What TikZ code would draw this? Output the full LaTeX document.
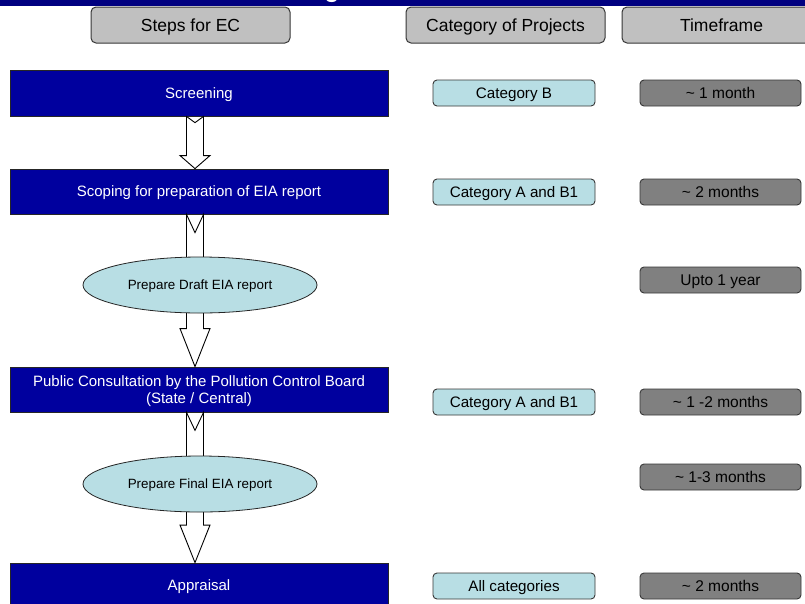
\documentclass[tikz,border=0pt]{standalone}
\usepackage{fontspec}
\setmainfont{Liberation Sans}
\usetikzlibrary{shapes.geometric,calc}

\definecolor{bandnavy}{RGB}{0,0,128}
\definecolor{stepblue}{RGB}{0,0,158}
\definecolor{catcyan}{RGB}{184,222,228}
\definecolor{hdrgrey}{RGB}{192,192,192}
\definecolor{timegrey}{RGB}{128,128,128}
\definecolor{edgegrey}{RGB}{55,55,55}

\tikzset{
  header/.style={draw=edgegrey, line width=1pt, rounded corners=5pt, fill=hdrgrey,
    minimum width=199pt, minimum height=36pt, inner sep=0pt, text depth=0pt,
    font=\fontsize{17.5}{20}\selectfont},
  stepbox/.style={draw=black!85, line width=0.8pt, fill=stepblue, text=white,
    minimum width=378pt, minimum height=45pt, inner sep=0pt, align=center,
    text depth=0pt, font=\fontsize{15}{17}\selectfont},
  catbox/.style={draw=edgegrey, line width=0.9pt, rounded corners=4pt, fill=catcyan,
    minimum width=162pt, minimum height=26pt, inner sep=0pt, text depth=0pt,
    font=\fontsize{15.2}{17}\selectfont},
  timebox/.style={catbox, fill=timegrey, minimum width=161pt,
    font=\fontsize{15.5}{17}\selectfont},
  prepoval/.style={ellipse, draw=black!85, line width=0.8pt, fill=catcyan,
    minimum width=234pt, minimum height=56pt, inner sep=0pt, text depth=0pt,
    font=\fontsize{13.4}{15}\selectfont},
  flowarrow/.style={draw=black, line width=0.9pt, fill=white, line join=miter}
}

% hollow block arrow with a notched tail, from the bottom of one node to the top of the next
\newcommand{\notchedarrow}[2]{%
  \draw[flowarrow] let \p1=(#1.south), \p2=(#2.north),
      \n1={\y1-\y2}, \n2={\x1-4pt} in
    ({\n2-8.5pt},{\y1}) -- ({\n2},{\y1-0.12*\n1}) -- ({\n2+8.5pt},{\y1})
    -- ({\n2+8.5pt},{\y2+0.25*\n1}) -- ({\n2+15pt},{\y2+0.25*\n1})
    -- ({\n2},{\y2}) -- ({\n2-15pt},{\y2+0.25*\n1})
    -- ({\n2-8.5pt},{\y2+0.25*\n1}) -- cycle;}

\begin{document}
\begin{tikzpicture}[x=1pt, y=-1pt]
  \useasboundingbox (0,0) rectangle (805,603);
  \fill[white] (0,0) rectangle (805,603);

  % title band along the top edge
  \begin{scope}
    \clip (0,0) rectangle (805,603);
    \fill[bandnavy] (0,-2) rectangle (805,6);
    \node[anchor=base, text=white, inner sep=0pt, font=\fontsize{24}{28}\selectfont\bfseries]
      (titlefrag) at (332,-3) {g};
  \end{scope}

  % column headers
  \node[header] (hsteps) at (190.5,25) {Steps for EC};
  \node[header] (hcat)   at (505.5,25) {Category of Projects};
  \node[header] (htime)  at (721.5,25) {Timeframe};

  % process steps
  \node[stepbox, minimum height=46pt] (screen) at (199,93) {Screening};
  \node[stepbox] (scope) at (199,191.5) {Scoping for preparation of EIA report};
  \node[stepbox] (public) at (199,389.5)
    {Public Consultation by the Pollution Control Board\\(State / Central)};
  \node[stepbox] (apprais) at (199,585.5) {Appraisal};

  % connecting block arrows
  \notchedarrow{screen}{scope}
  \notchedarrow{scope}{public}
  \notchedarrow{public}{apprais}

  % report preparation stages
  \node[prepoval] (draft) at (200,285) {Prepare Draft EIA report};
  \node[prepoval] (final) at (200,484) {Prepare Final EIA report};

  % project categories
  \node[catbox] (cat1) at (514,93)  {Category B};
  \node[catbox] (cat2) at (514,192) {Category A and B1};
  \node[catbox] (cat3) at (514,402) {Category A and B1};
  \node[catbox] (cat4) at (514,586) {All categories};

  % timeframes
  \node[timebox] (t1) at (720.5,93)  {\textasciitilde{} 1 month};
  \node[timebox] (t2) at (720.5,192) {\textasciitilde{} 2 months};
  \node[timebox] (t3) at (720.5,280) {Upto 1 year};
  \node[timebox] (t4) at (720.5,402) {\textasciitilde{} 1 -2 months};
  \node[timebox] (t5) at (720.5,477) {\textasciitilde{} 1-3 months};
  \node[timebox] (t6) at (720.5,586) {\textasciitilde{} 2 months};
\end{tikzpicture}
\end{document}
